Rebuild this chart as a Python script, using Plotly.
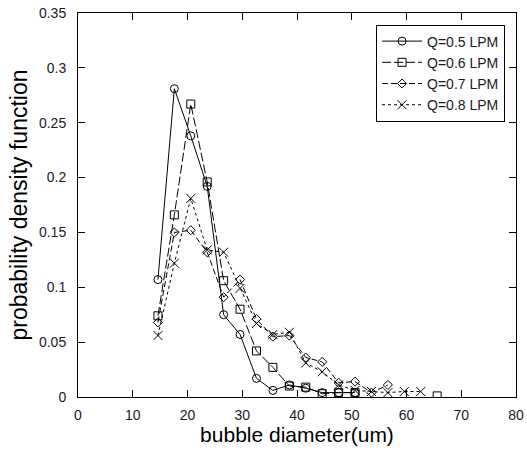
import plotly.graph_objects as go

# bubble diameter bins (um)
diameter = [14.6, 17.6, 20.6, 23.6, 26.6, 29.6, 32.6, 35.6, 38.6, 41.6,
            44.6, 47.6, 50.6, 53.6, 56.6, 59.6, 62.6, 65.6]

# probability density for each gas flow rate (None = no sample in bin)
pdf_q05 = [0.107, 0.281, 0.238, 0.192, 0.075, 0.057, 0.017, 0.006, 0.011, 0.008,
           0.004, 0.004, 0.004, None, None, None, None, None]
pdf_q06 = [0.074, 0.166, 0.267, 0.196, 0.106, 0.080, 0.042, 0.027, 0.010, 0.009,
           0.003, 0.004, 0.004, None, None, None, None, 0.001]
pdf_q07 = [0.068, 0.150, 0.152, 0.132, 0.091, 0.107, 0.071, 0.055, 0.056, 0.036,
           0.032, 0.013, 0.014, 0.004, 0.011, None, None, None]
pdf_q08 = [0.056, 0.122, 0.181, 0.134, 0.132, 0.099, 0.067, 0.057, 0.059, 0.031,
           0.023, 0.011, 0.006, 0.005, 0.004, 0.005, 0.005, None]

labels = ["Q=0.5 LPM", "Q=0.6 LPM", "Q=0.7 LPM", "Q=0.8 LPM"]
x_ticks = [0, 10, 20, 30, 40, 50, 60, 70, 80]
y_ticks = [0, 0.05, 0.1, 0.15, 0.2, 0.25, 0.3, 0.35]
y_tick_text = ["0", "0.05", "0.1", "0.15", "0.2", "0.25", "0.3", "0.35"]

series = [pdf_q05, pdf_q06, pdf_q07, pdf_q08]
symbols = ["circle-open", "square-open", "diamond-open", "x-thin-open"]
dashes = ["solid", "9px,3px", "6px,3px", "3px,3px"]
sizes = [8, 8, 7, 9]

fig = go.Figure()
for name, ys, sym, dash, sz in zip(labels, series, symbols, dashes, sizes):
    fig.add_trace(go.Scatter(
        x=diameter, y=ys, name=name, mode="lines+markers",
        connectgaps=False,
        line=dict(color="black", width=1, dash=dash),
        marker=dict(symbol=sym, size=sz, color="black",
                    line=dict(color="black", width=1)),
    ))

axis_common = dict(
    showline=True, linecolor="black", linewidth=1, mirror="ticks",
    ticks="inside", ticklen=7, tickcolor="black", tickwidth=1,
    showgrid=False, zeroline=False, automargin=False,
    tickfont=dict(family="Liberation Sans, Arial", size=14, color="#1a1a2a"),
)

fig.update_layout(
    width=527, height=453,
    margin=dict(l=78, r=11, t=13, b=56),
    paper_bgcolor="white", plot_bgcolor="white",
    font=dict(family="Liberation Sans, Arial", color="black"),
    xaxis=dict(range=[0, 80], tickvals=x_ticks, ticklabelstandoff=5,
               title=dict(text="bubble diameter(um)", font=dict(size=21),
                          standoff=4),
               **axis_common),
    yaxis=dict(range=[0, 0.35], tickvals=y_ticks, ticktext=y_tick_text,
               ticklabelstandoff=8,
               title=dict(text="probability density function",
                          font=dict(size=23), standoff=4),
               **axis_common),
    legend=dict(x=0.975, y=0.97, xanchor="right", yanchor="top",
                bgcolor="white", bordercolor="black", borderwidth=1,
                font=dict(size=14, color="#1a1a2a"),
                tracegroupgap=0, itemwidth=40),
    showlegend=True,
)

fig.write_html("out.html")
